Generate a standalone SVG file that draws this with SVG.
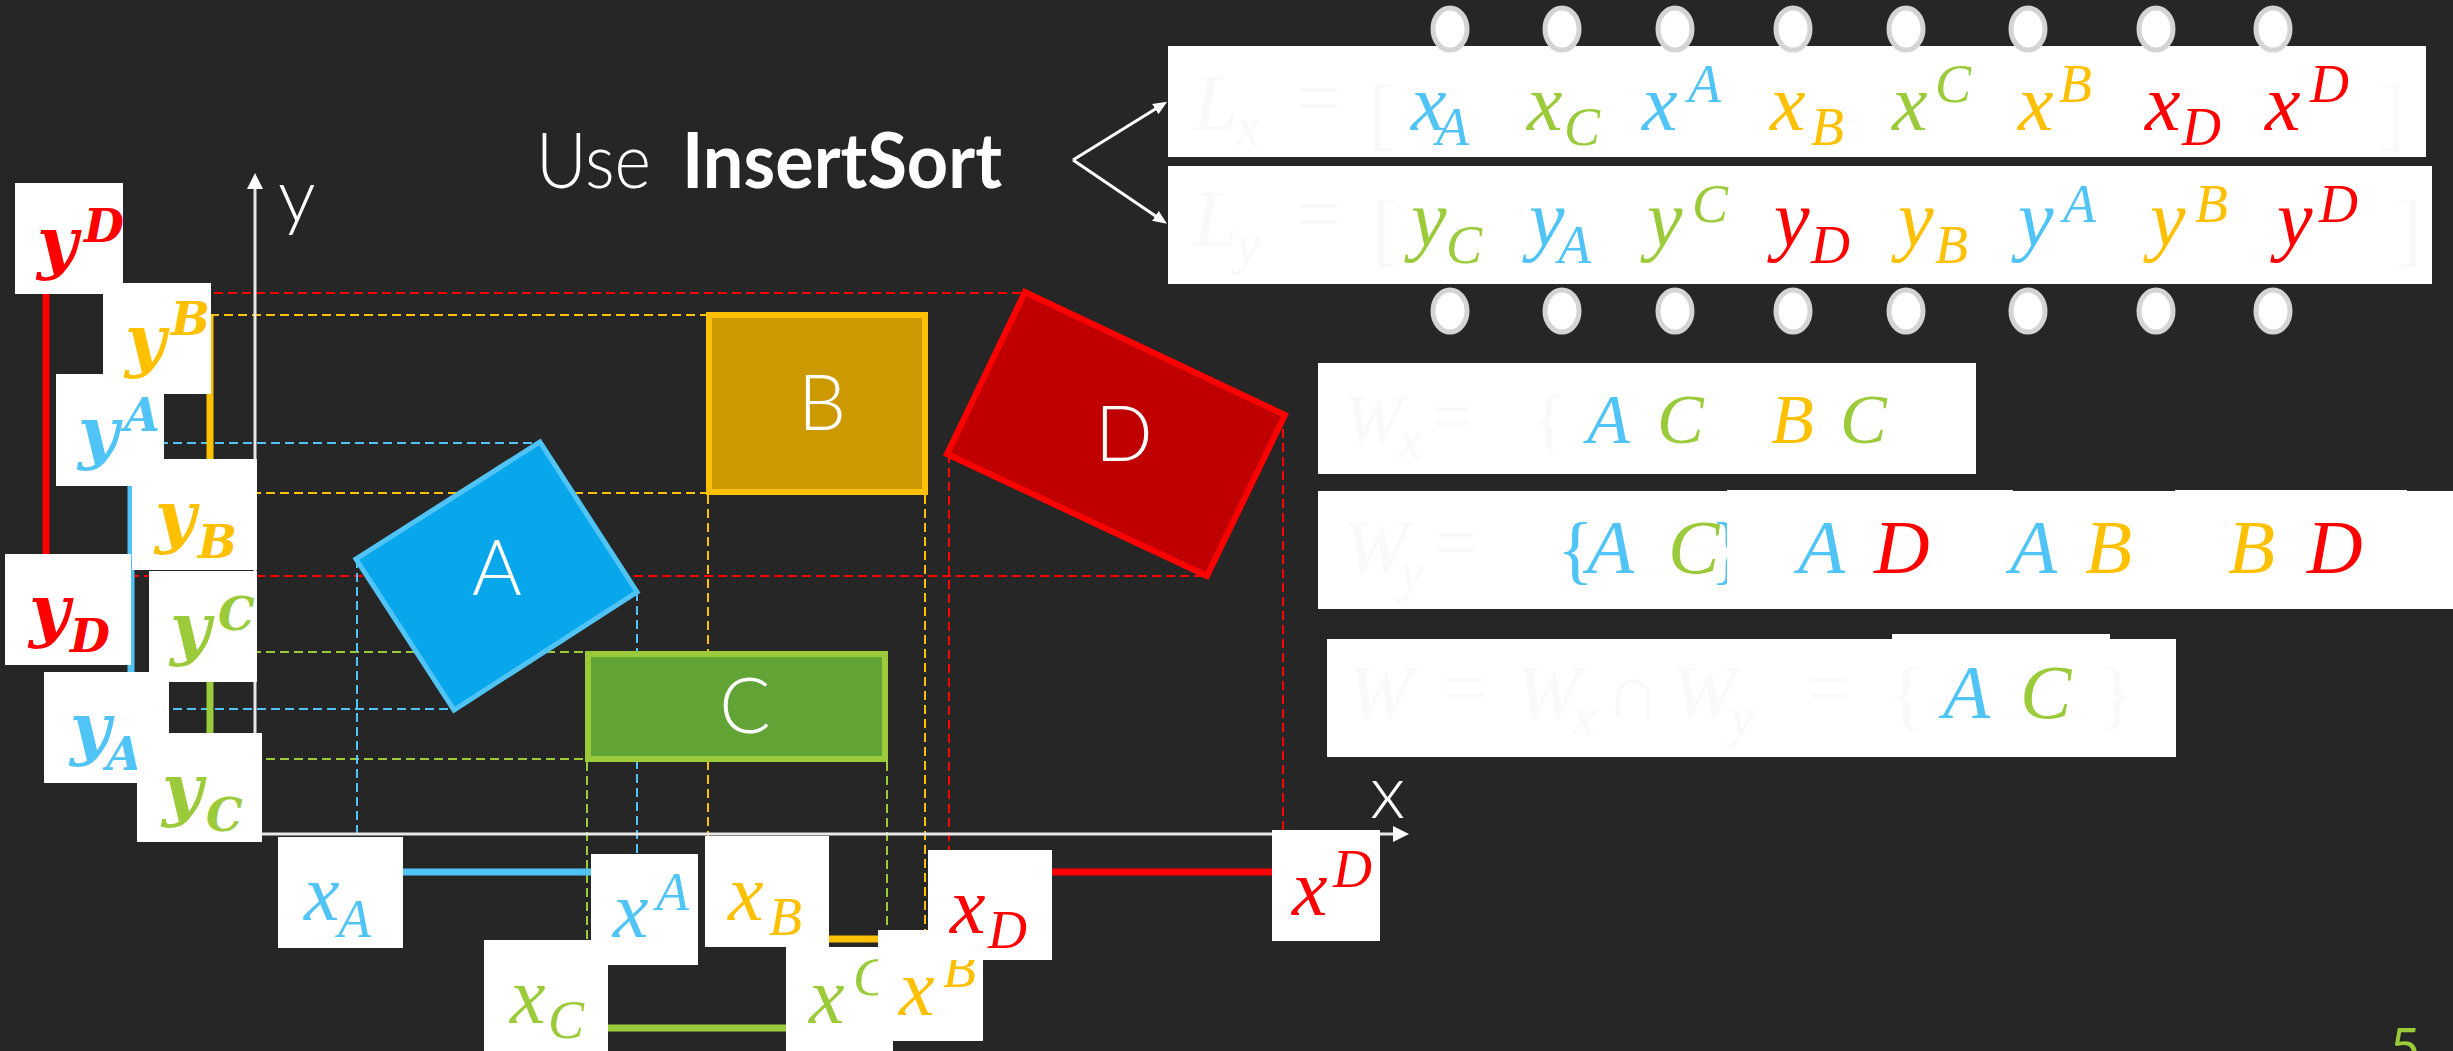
<svg xmlns="http://www.w3.org/2000/svg" width="2453" height="1051" viewBox="0 0 2453 1051">
<defs>
<style>
.it{font-family:"Liberation Serif","DejaVu Serif",serif;font-style:italic}
.bi{font-family:"DejaVu Serif","Liberation Serif",serif;font-style:italic;font-weight:bold}
.g{font-family:Lato,"Liberation Sans",sans-serif;fill:#fff}
.L{font-size:80px}.S{font-size:54px}
.BL{font-size:70px}.BS{font-size:46px}
.W1{font-size:70px}.W2{font-size:77px}
.cb{fill:#50C4F6}.cg{fill:#9BCB3A}.co{fill:#FFC000}.cr{fill:#FF0000}
.f{fill:#f9f9f9}
.n{font-style:normal}
.box{fill:#fff}
.dash{stroke-width:2;stroke-dasharray:9 5;fill:none}
.bar{stroke-width:7;fill:none}
.sb{stroke:#50C4F6}.sg{stroke:#9BCB3A}.so{stroke:#FFC000}.sr{stroke:#FF0000}
.ring{fill:#fff;stroke:#d4d4d4;stroke-width:5}
.axis{stroke:#e8e8e8;stroke-width:3;fill:none}
.arr{stroke:#fff;stroke-width:3;fill:none}
.shl{font-family:Lato,"Liberation Sans",sans-serif;font-weight:300;font-size:76px;fill:#fff;text-anchor:middle}
</style>
<marker id="ah" markerUnits="userSpaceOnUse" markerWidth="16" markerHeight="16" refX="2" refY="8" orient="auto" viewBox="0 0 16 16"><path d="M0,0 L16,8 L0,16 z" fill="#fff"/></marker>
<marker id="ah2" markerUnits="userSpaceOnUse" markerWidth="14" markerHeight="12" refX="2" refY="6" orient="auto" viewBox="0 0 14 12"><path d="M0,0 L14,6 L0,12 z" fill="#fff"/></marker>
</defs>
<rect x="0" y="0" width="2453" height="1051" fill="#262626"/>

<g id="projections">
<path class="dash sr" d="M46,293 H1025"/>
<path class="dash so" d="M210,315 H706"/>
<path class="dash sb" d="M131,443 H540"/>
<path class="dash so" d="M210,493 H706"/>
<path class="dash sr" d="M46,576 H1207"/>
<path class="dash sg" d="M210,652 H585"/>
<path class="dash sb" d="M131,709 H454"/>
<path class="dash sg" d="M210,759 H585"/>
<path class="dash sb" d="M357,559 V872"/>
<path class="dash sg" d="M587,762 V1028"/>
<path class="dash sb" d="M637,592 V872"/>
<path class="dash so" d="M708,495 V939"/>
<path class="dash sg" d="M887,762 V1028"/>
<path class="dash so" d="M925,495 V939"/>
<path class="dash sr" d="M949,454 V872"/>
<path class="dash sr" d="M1283,415 V872"/>
</g>

<g id="shapeA"><polygon points="540,442 637,592 454,710 356,559" fill="#08A6EB" stroke="#50C4F6" stroke-width="5"/><text class="shl" x="497" y="595">A</text></g>
<g id="shapeB"><rect x="709" y="315" width="216" height="177" fill="#CC9900" stroke="#FFC000" stroke-width="6"/><text class="shl" x="822" y="430">B</text></g>
<g id="shapeC"><rect x="588" y="654" width="297" height="105" fill="#62A336" stroke="#9BCB3A" stroke-width="6"/><text class="shl" x="745" y="733">C</text></g>
<g id="shapeD"><polygon points="1025,292 1285,415 1207,576 947,454" fill="#C00000" stroke="#FF0000" stroke-width="6"/><text class="shl" x="1124" y="461">D</text></g>

<g id="axes">
<path class="axis" d="M255,834 V187" marker-end="url(#ah)"/>
<path class="axis" d="M255,834 H1395" marker-end="url(#ah)"/>
<text class="g" x="278" y="222" font-size="75" font-weight="300">y</text>
<text class="g" x="1370" y="818" font-size="75" font-weight="300">x</text>
</g>

<g id="intervals">
<path class="bar sr" d="M46,294 V576"/>
<path class="bar so" d="M210,315 V493"/>
<path class="bar sb" d="M131,443 V709"/>
<path class="bar sg" d="M210,652 V759"/>
<path class="bar sb" d="M357,872 H637"/>
<path class="bar so" d="M708,939 H925"/>
<path class="bar sg" d="M587,1028 H887"/>
<path class="bar sr" d="M949,872 H1283"/>
</g>

<g id="lbl-yD-sup"><rect class="box" x="15" y="183" width="108" height="111"/><text class="bi cr"><tspan class="BL" x="37" y="266">y</tspan><tspan class="BS" x="84" y="242">D</tspan></text></g>
<g id="lbl-yA-sup"><rect class="box" x="56" y="374" width="108" height="112"/><text class="bi cb"><tspan class="BL" x="78" y="456">y</tspan><tspan class="BS" x="124" y="431">A</tspan></text></g>
<g id="lbl-yB-sup"><rect class="box" x="103" y="283" width="108" height="111"/><text class="bi co"><tspan class="BL" x="125" y="364">y</tspan><tspan class="BS" x="171" y="335">B</tspan></text></g>
<g id="lbl-yB-sub"><rect class="box" x="132" y="459" width="125" height="111"/><text class="bi co"><tspan class="BL" x="155" y="540">y</tspan><tspan class="BS" x="198" y="558">B</tspan></text></g>
<g id="lbl-yD-sub"><rect class="box" x="5" y="554" width="126" height="111"/><text class="bi cr"><tspan class="BL" x="29" y="634">y</tspan><tspan class="BS" x="70" y="652">D</tspan></text></g>
<g id="lbl-yC-sup"><rect class="box" x="149" y="571" width="108" height="111"/><text class="bi cg"><tspan class="BL" x="170" y="652">y</tspan><tspan class="BS" x="218" y="630">C</tspan></text></g>
<g id="lbl-yA-sub"><rect class="box" x="44" y="672" width="125" height="111"/><text class="bi cb"><tspan class="BL" x="70" y="752">y</tspan><tspan class="BS" x="106" y="770">A</tspan></text></g>
<g id="lbl-yC-sub"><rect class="box" x="137" y="733" width="125" height="109"/><text class="bi cg"><tspan class="BL" x="162" y="813">y</tspan><tspan class="BS" x="206" y="831">C</tspan></text></g>

<g id="lbl-xA-sub"><rect class="box" x="278" y="837" width="125" height="111"/><text class="it cb"><tspan class="L" x="304" y="920">x</tspan><tspan class="S" x="338" y="937">A</tspan></text></g>
<g id="lbl-xA-sup"><rect class="box" x="591" y="854" width="107" height="111"/><text class="it cb"><tspan class="L" x="613" y="937">x</tspan><tspan class="S" x="656" y="910">A</tspan></text></g>
<g id="lbl-xC-sub"><rect class="box" x="484" y="940" width="124" height="111"/><text class="it cg"><tspan class="L" x="510" y="1023">x</tspan><tspan class="S" x="548" y="1038">C</tspan></text></g>
<g id="lbl-xB-sub"><rect class="box" x="705" y="836" width="124" height="111"/><text class="it co"><tspan class="L" x="728" y="920">x</tspan><tspan class="S" x="769" y="935">B</tspan></text></g>
<g id="lbl-xC-sup"><rect class="box" x="786" y="947" width="107" height="104"/><text class="it cg"><tspan class="L" x="809" y="1023">x</tspan><tspan class="S" x="853" y="995">C</tspan></text></g>
<g id="lbl-xB-sup"><rect class="box" x="878" y="930" width="105" height="111"/><text class="it co"><tspan class="L" x="899" y="1015">x</tspan><tspan class="S" x="943" y="987">B</tspan></text></g>
<g id="lbl-xD-sub"><rect class="box" x="928" y="850" width="124" height="110"/><text class="it cr"><tspan class="L" x="950" y="933">x</tspan><tspan class="S" x="988" y="948">D</tspan></text></g>
<g id="lbl-xD-sup"><rect class="box" x="1272" y="830" width="108" height="111"/><text class="it cr"><tspan class="L" x="1292" y="915">x</tspan><tspan class="S" x="1333" y="887">D</tspan></text></g>

<g id="title">
<text class="g" x="536" y="188" font-size="76" font-weight="300" textLength="115" lengthAdjust="spacingAndGlyphs">Use</text>
<text class="g" x="682" y="188" font-size="76" font-weight="700" textLength="320" lengthAdjust="spacingAndGlyphs">InsertSort</text>
</g>
<g id="title-arrows">
<path class="arr" d="M1073,160 L1157,108" marker-end="url(#ah2)"/>
<path class="arr" d="M1073,160 L1157,217" marker-end="url(#ah2)"/>
</g>

<g id="list-x">
<rect class="box" x="1168" y="46" width="1258" height="111"/>
<text class="it f"><tspan class="L" x="1193" y="130">L</tspan><tspan class="S" x="1236" y="145">x</tspan><tspan class="L n" x="1296" y="125">=</tspan><tspan class="L n" x="1368" y="140">[</tspan><tspan class="L n" x="2378" y="140">]</tspan></text>
<text class="it cb"><tspan class="L" x="1411" y="130">x</tspan><tspan class="S" x="1436" y="145">A</tspan></text>
<text class="it cg"><tspan class="L" x="1527" y="130">x</tspan><tspan class="S" x="1564" y="145">C</tspan></text>
<text class="it cb"><tspan class="L" x="1642" y="130">x</tspan><tspan class="S" x="1688" y="102">A</tspan></text>
<text class="it co"><tspan class="L" x="1770" y="130">x</tspan><tspan class="S" x="1811" y="145">B</tspan></text>
<text class="it cg"><tspan class="L" x="1892" y="130">x</tspan><tspan class="S" x="1935" y="102">C</tspan></text>
<text class="it co"><tspan class="L" x="2018" y="130">x</tspan><tspan class="S" x="2059" y="102">B</tspan></text>
<text class="it cr"><tspan class="L" x="2145" y="130">x</tspan><tspan class="S" x="2182" y="145">D</tspan></text>
<text class="it cr"><tspan class="L" x="2265" y="130">x</tspan><tspan class="S" x="2310" y="102">D</tspan></text>
</g>

<g id="list-y">
<rect class="box" x="1168" y="166" width="1264" height="118"/>
<text class="it f"><tspan class="L" x="1193" y="246">L</tspan><tspan class="S" x="1236" y="263">y</tspan><tspan class="L n" x="1296" y="241">=</tspan><tspan class="L n" x="1372" y="256">[</tspan><tspan class="L n" x="2395" y="256">]</tspan></text>
<text class="it cg"><tspan class="L" x="1411" y="246">y</tspan><tspan class="S" x="1446" y="263">C</tspan></text>
<text class="it cb"><tspan class="L" x="1529" y="246">y</tspan><tspan class="S" x="1558" y="263">A</tspan></text>
<text class="it cg"><tspan class="L" x="1647" y="246">y</tspan><tspan class="S" x="1692" y="222">C</tspan></text>
<text class="it cr"><tspan class="L" x="1774" y="246">y</tspan><tspan class="S" x="1811" y="263">D</tspan></text>
<text class="it co"><tspan class="L" x="1898" y="246">y</tspan><tspan class="S" x="1935" y="263">B</tspan></text>
<text class="it cb"><tspan class="L" x="2018" y="246">y</tspan><tspan class="S" x="2063" y="222">A</tspan></text>
<text class="it co"><tspan class="L" x="2150" y="246">y</tspan><tspan class="S" x="2195" y="222">B</tspan></text>
<text class="it cr"><tspan class="L" x="2277" y="246">y</tspan><tspan class="S" x="2319" y="222">D</tspan></text>
</g>

<g id="rings">
<ellipse class="ring" cx="1450" cy="29" rx="17" ry="21"/><ellipse class="ring" cx="1562" cy="29" rx="17" ry="21"/><ellipse class="ring" cx="1675" cy="29" rx="17" ry="21"/><ellipse class="ring" cx="1793" cy="29" rx="17" ry="21"/><ellipse class="ring" cx="1906" cy="29" rx="17" ry="21"/><ellipse class="ring" cx="2028" cy="29" rx="17" ry="21"/><ellipse class="ring" cx="2156" cy="29" rx="17" ry="21"/><ellipse class="ring" cx="2273" cy="29" rx="17" ry="21"/>
<ellipse class="ring" cx="1450" cy="311" rx="17" ry="21"/><ellipse class="ring" cx="1562" cy="311" rx="17" ry="21"/><ellipse class="ring" cx="1675" cy="311" rx="17" ry="21"/><ellipse class="ring" cx="1793" cy="311" rx="17" ry="21"/><ellipse class="ring" cx="1906" cy="311" rx="17" ry="21"/><ellipse class="ring" cx="2028" cy="311" rx="17" ry="21"/><ellipse class="ring" cx="2156" cy="311" rx="17" ry="21"/><ellipse class="ring" cx="2273" cy="311" rx="17" ry="21"/>
</g>

<g id="set-Wx">
<rect class="box" x="1318" y="363" width="658" height="111"/>
<text class="it f"><tspan class="W1" x="1344" y="443">W</tspan><tspan class="S" x="1398" y="458">x</tspan><tspan class="W1 n" x="1432" y="440">=</tspan><tspan class="W1 n" x="1532" y="443">{</tspan></text>
<text class="it W1"><tspan class="cb" x="1587" y="443">A</tspan><tspan class="cg" x="1657" y="443">C</tspan><tspan class="co" x="1771" y="443">B</tspan><tspan class="cg" x="1840" y="443">C</tspan></text>
</g>

<g id="set-Wy">
<rect class="box" x="1318" y="491" width="1135" height="118"/>
<text class="it f"><tspan class="W2" x="1344" y="573">W</tspan><tspan class="S" x="1400" y="590">y</tspan><tspan class="W2 n" x="1434" y="568">=</tspan></text>
<text class="it W2"><tspan class="cb n" x="1557" y="575">{</tspan><tspan class="cb" x="1587" y="573">A</tspan><tspan class="cg" x="1668" y="573">C</tspan><tspan class="cb n" x="1710" y="575">}</tspan></text>
<rect class="box" x="1727" y="490" width="286" height="119"/>
<rect class="box" x="2175" y="490" width="232" height="119"/>
<text class="it W2"><tspan class="cb" x="1798" y="573">A</tspan><tspan class="cr" x="1874" y="573">D</tspan><tspan class="cb" x="2010" y="573">A</tspan><tspan class="co" x="2085" y="573">B</tspan><tspan class="co" x="2228" y="573">B</tspan><tspan class="cr" x="2307" y="573">D</tspan></text>
</g>

<g id="set-W">
<rect class="box" x="1327" y="639" width="849" height="118"/>
<rect class="box" x="1892" y="634" width="218" height="8"/>
<text class="it f"><tspan class="W2" x="1348" y="718">W</tspan><tspan class="W2 n" x="1443" y="713">=</tspan><tspan class="W2" x="1516" y="718">W</tspan><tspan class="S" x="1572" y="735">x</tspan><tspan class="W2 n" x="1605" y="718">∩</tspan><tspan class="W2" x="1672" y="718">W</tspan><tspan class="S" x="1730" y="735">y</tspan><tspan class="W2 n" x="1807" y="713">=</tspan><tspan class="W2 n" x="1888" y="720">{</tspan><tspan class="W2 n" x="2098" y="720">}</tspan></text>
<text class="it W2"><tspan class="cb" x="1943" y="718">A</tspan><tspan class="cg" x="2020" y="718">C</tspan></text>
</g>

<text id="page" x="2390" y="1066" font-family="Lato, 'Liberation Sans', sans-serif" font-size="52" class="cg">5</text>
</svg>
